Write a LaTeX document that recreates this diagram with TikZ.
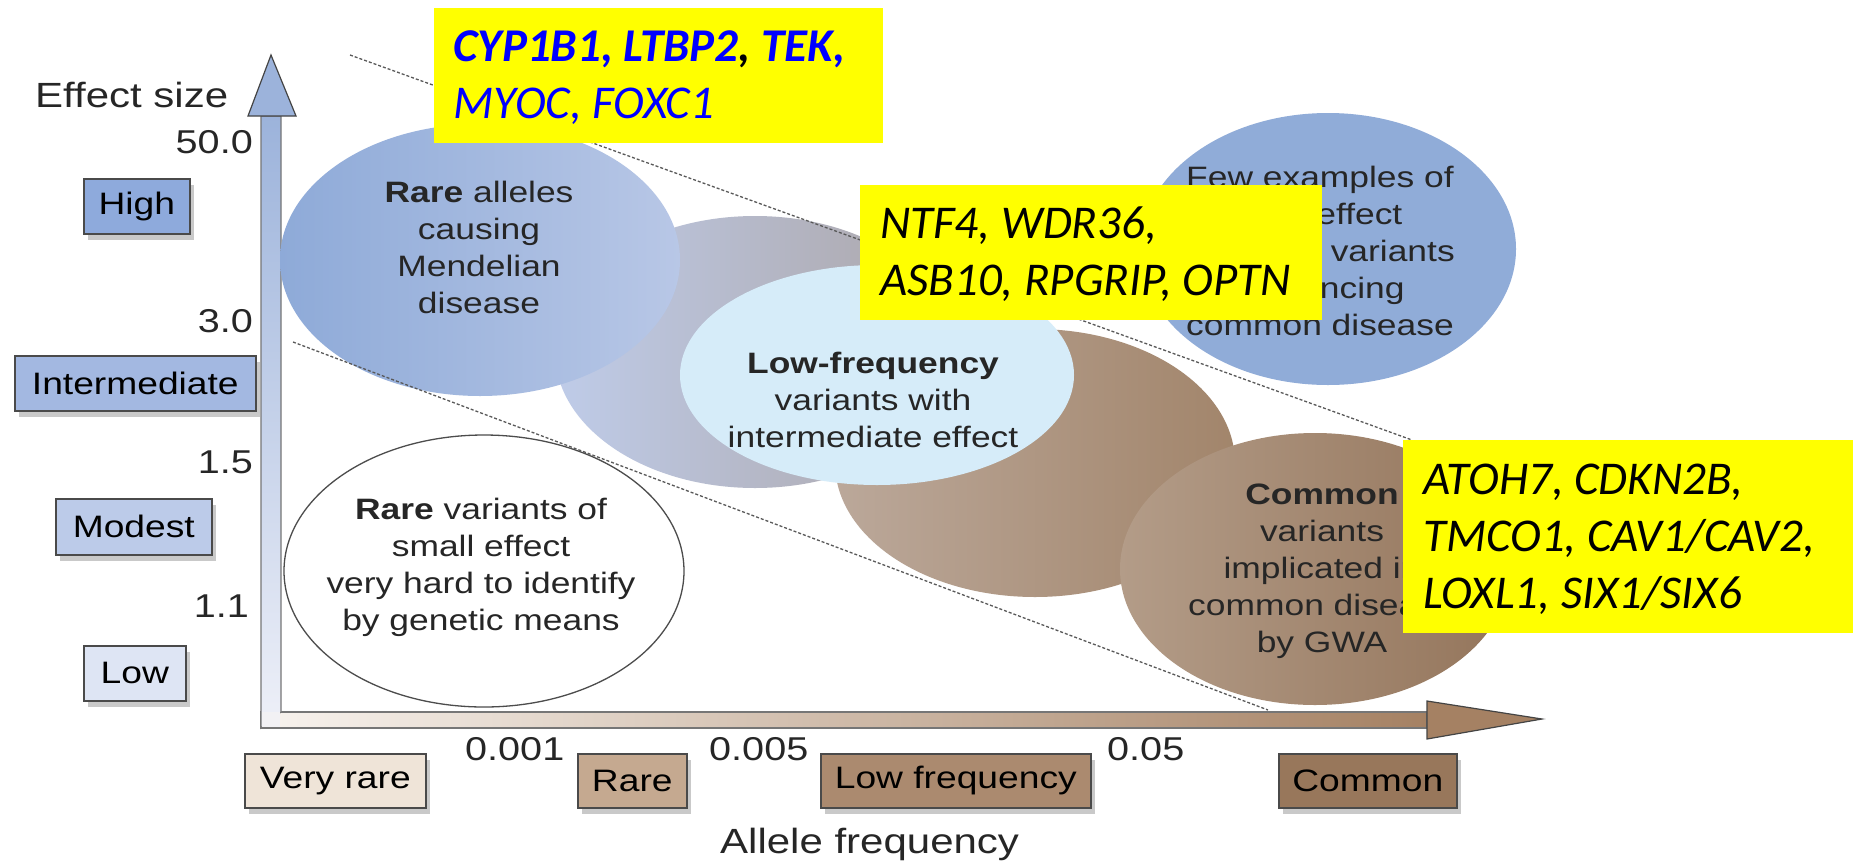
\documentclass[tikz,border=0pt]{standalone}
\usepackage{fontspec}
\setmainfont{Liberation Sans}[FakeStretch=1.2]
\newfontfamily\calfont{Carlito}
\usetikzlibrary{shapes.geometric,shadows}
\definecolor{txt}{HTML}{262626}
\definecolor{eA}{HTML}{8EAAD8}
\definecolor{eAr}{HTML}{B8C7E6}
\definecolor{eBl}{HTML}{BFCCE9}
\definecolor{eBr}{HTML}{ABA4A6}
\definecolor{eC}{HTML}{D6ECF9}
\definecolor{eDl}{HTML}{BBA89A}
\definecolor{eDr}{HTML}{A2856B}
\definecolor{eEl}{HTML}{B39C88}
\definecolor{eEr}{HTML}{94755B}
\definecolor{eF}{HTML}{90ACD8}
\definecolor{bHigh}{HTML}{8EAADC}
\definecolor{bInt}{HTML}{A3B8E1}
\definecolor{bMod}{HTML}{BCCBE9}
\definecolor{bLow}{HTML}{DEE5F4}
\definecolor{bVR}{HTML}{EFE4D8}
\definecolor{bRare}{HTML}{C5A990}
\definecolor{bLF}{HTML}{AB8A6F}
\definecolor{bCom}{HTML}{98775B}
\definecolor{shaftline}{HTML}{767676}
\definecolor{headline}{HTML}{444444}
\definecolor{boxline}{HTML}{4A4A4A}
\definecolor{yshtop}{HTML}{9CB3DB}
\definecolor{yshbot}{HTML}{EEF0F8}
\definecolor{xshl}{HTML}{F8F3EE}
\definecolor{xshr}{HTML}{A58163}
\definecolor{yel}{HTML}{FFFF00}
\definecolor{genblue}{HTML}{0000FF}
\newcommand{\setfs}[2]{\fontsize{#1}{#2}\selectfont}
\begin{document}
\begin{tikzpicture}[x=1pt,y=-1pt,
  ell/.style={ellipse, inner sep=0, minimum width=#1},
  etext/.style={inner sep=0, align=center, text=txt, font=\setfs{29.5}{37}, anchor=base},
  tick/.style={inner sep=0, text=txt, font=\setfs{33}{40}},
  axlabel/.style={inner sep=0, text=txt, font=\setfs{35}{40}, anchor=base west},
  catbox/.style={draw=boxline, line width=1.6pt, inner sep=0, anchor=north west, font=\setfs{31}{36}, text=black,
     drop shadow={shadow xshift=4pt, shadow yshift=-6pt, fill=black!60, opacity=0.35}},
  ybox/.style={fill=yel, inner sep=0, anchor=north west},
  ytext/.style={inner sep=0, align=left, anchor=base west, font=\calfont\itshape\setfs{47}{57}},
  guide/.style={draw=black!65, line width=1.3pt, dash pattern=on 3pt off 2pt}
]
\useasboundingbox[fill=white] (0,0) rectangle (1853,863);

% ---- axis frame ----
\path[left color=xshl, right color=xshr, draw=shaftline, line width=1.2pt] (261,712) rectangle (1427,728);
\path[top color=yshtop, bottom color=yshbot, draw=shaftline, line width=1.2pt] (261,116) -- (281,116) -- (281,712) -- (261,728) -- cycle;
\fill[yshbot!60!xshl] (262,712) rectangle (280.4,727.4);
\draw[fill=yshtop, draw=headline, line width=1.2pt] (248,116) -- (271,55) -- (296,116) -- cycle;
\draw[fill=xshr, draw=headline, line width=1.2pt] (1427,701) -- (1542,719) -- (1427,739) -- cycle;

% ---- ellipses ----
\node[ell=400pt, minimum height=272pt, left color=eBl, right color=eBr] (e2) at (755,352) {};
\node[ell=400pt, minimum height=272pt, left color=eA, right color=eAr] (e1) at (480,260) {};
\node[ell=400pt, minimum height=268pt, left color=eDl, right color=eDr] (e4) at (1035,463) {};
\node[ell=394pt, minimum height=220pt, fill=eC] (e3) at (877,375) {};
\node[ell=390pt, minimum height=272pt, left color=eEl, right color=eEr] (e5) at (1315,569) {};
\node[ell=376pt, minimum height=272pt, fill=eF] (e6) at (1328,249) {};
\node[ell=400pt, minimum height=272pt, fill=white, draw=black!70, line width=1.3pt] (e7) at (484,571) {};

% ---- ellipse texts (base = last line) ----
\node[etext] (t1) at (479,313) {\textbf{Rare} alleles\\causing\\Mendelian\\disease};
\node[etext] (t6) at (1320,335) {Few examples of\\high-effect\\common variants\\influencing\\common disease};
\node[etext] (t3) at (873,447) {\textbf{Low-frequency}\\variants with\\intermediate effect};
\node[etext] (t5) at (1322,652) {\textbf{Common}\\variants\\implicated in\\common disease\\by GWA};
\node[etext] (t7) at (481,630) {\textbf{Rare} variants of\\small effect\\very hard to identify\\by genetic means};

% ---- dashed guides ----
\coordinate (g1a) at (350,55);
\coordinate (g1b) at (1412,440);
\coordinate (g2a) at (293,342);
\coordinate (g2b) at (1268,710);
\draw[guide] (g1a) -- (g1b);
\draw[guide] (g2a) -- (g2b);

% ---- axis labels and ticks ----
\node[axlabel] (ylab) at (35,107) {Effect size};
\node[axlabel] (xlab) at (720,853) {Allele frequency};
\node[tick, anchor=base east] (y50) at (253,153) {50.0};
\node[tick, anchor=base east] (y30) at (253,332) {3.0};
\node[tick, anchor=base east] (y15) at (253,473) {1.5};
\node[tick, anchor=base east] (y11) at (249,617) {1.1};
\node[tick, anchor=base west] (x1) at (465,760) {0.001};
\node[tick, anchor=base west] (x2) at (709,760) {0.005};
\node[tick, anchor=base west] (x3) at (1107,760) {0.05};

% ---- category boxes ----
\node[catbox, fill=bHigh, minimum width=106pt, minimum height=55pt] (bhigh) at (83,178) {High};
\node[catbox, fill=bInt, minimum width=241pt, minimum height=55pt] (bint) at (14,355) {Intermediate};
\node[catbox, fill=bMod, minimum width=156pt, minimum height=56pt] (bmod) at (55,498) {Modest};
\node[catbox, fill=bLow, minimum width=102pt, minimum height=55pt] (blow) at (83,645) {Low};
\node[catbox, fill=bVR, minimum width=181pt, minimum height=54pt] (bvr) at (244,753) {Very rare};
\node[catbox, fill=bRare, minimum width=109pt, minimum height=54pt] (brare) at (577,753) {Rare};
\node[catbox, fill=bLF, minimum width=270pt, minimum height=54pt] (blf) at (820,753) {Low frequency};
\node[catbox, fill=bCom, minimum width=178pt, minimum height=54pt] (bcom) at (1278,753) {Common};

% ---- yellow gene boxes ----
\node[ybox, minimum width=449pt, minimum height=135pt] (y1) at (434,8) {};
\node[ytext, text=genblue] (y1t) at (453,118) {\textbf{CYP1B1, LTBP2\textcolor{black}{,} TEK,}\\MYOC, FOXC1};
\node[ybox, minimum width=462pt, minimum height=135pt] (y2) at (860,185) {};
\node[ytext, text=black] (y2t) at (880,295) {NTF4, WDR36,\\ASB10, RPGRIP, OPTN};
\node[ybox, minimum width=450pt, minimum height=193pt] (y3) at (1403,440) {};
\node[ytext, text=black] (y3t) at (1423,608) {ATOH7, CDKN2B,\\TMCO1, CAV1/CAV2,\\LOXL1, SIX1/SIX6};
\end{tikzpicture}
\end{document}
